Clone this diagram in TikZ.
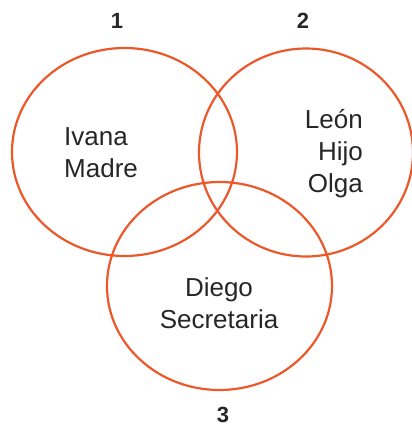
\documentclass[tikz,border=0pt]{standalone}
\usepackage{fontspec}
\setmainfont{Liberation Sans}
\usetikzlibrary{shapes.geometric}
\definecolor{vennorange}{RGB}{236,88,42}
\tikzset{
	venn/.style={draw=vennorange, line width=2.2pt, ellipse, inner sep=0pt},
	names/.style={inner sep=0pt, text=black!85, font=\fontsize{26}{32}\selectfont},
	setnum/.style={inner sep=0pt, text=black!85, font=\fontsize{22}{26}\selectfont\bfseries}
}
\begin{document}
\begin{tikzpicture}[x=1pt, y=-1pt]
		\useasboundingbox(0, 0) rectangle (412, 426);
		\node[venn, minimum width=225pt, minimum height=208pt](c1) at(124.5, 152){};
		\node[venn, minimum width=214pt, minimum height=208pt](c2) at(306, 152.5){};
		\node[venn, minimum width=225pt, minimum height=208pt](c3) at(219.5, 286){};

			\node[names, align=left, anchor=west](t1) at(64, 153){Ivana\\Madre};
			\node[names, align=right, anchor=east](t2) at(363, 154){León\\Hijo\\Olga};
			\node[names, align=center](t3) at(219, 303){Diego\\Secretaria};

		%%%%%%%%%%%%%%%%%%%%%%%%%%%%
		\node[setnum](n1) at(117, 20.5){1};
		\node[setnum](n2) at(303, 20.5){2};
		\node[setnum](n3) at(223, 414.5){3};
\end{tikzpicture}
\end{document}
